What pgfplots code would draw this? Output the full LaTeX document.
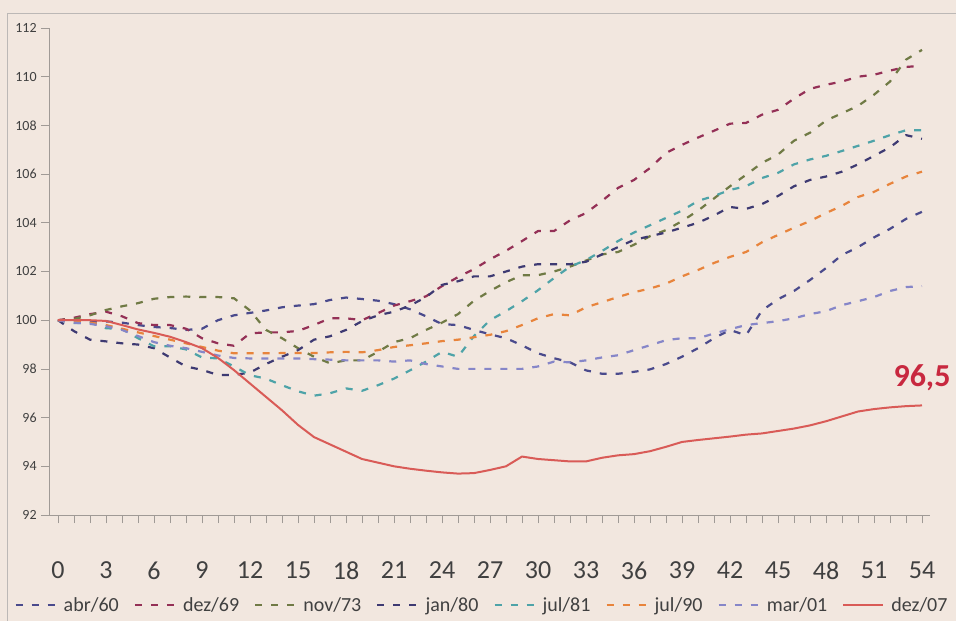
\documentclass[border=0pt]{standalone}
\usepackage{pgfplots}
\pgfplotsset{compat=1.18}
\usepackage{fontspec}
\setmainfont{Carlito}
\definecolor{paper}{HTML}{F2E7DF}
\definecolor{labgray}{HTML}{404040}
\definecolor{axgray}{HTML}{A09A96}
\definecolor{cA}{HTML}{4A4A8C}
\definecolor{cB}{HTML}{943056}
\definecolor{cC}{HTML}{707A45}
\definecolor{cD}{HTML}{3E3A72}
\definecolor{cE}{HTML}{4EA3A8}
\definecolor{cF}{HTML}{E8843C}
\definecolor{cG}{HTML}{8686C8}
\definecolor{cH}{HTML}{D95B57}
\definecolor{lbl}{HTML}{C8283F}
\begin{document}
\begin{tikzpicture}
\path[fill=paper] (-49.2pt,-106pt) rectangle (906.8pt,515pt);
\useasboundingbox (-49.2pt,-106pt) rectangle (906.8pt,515pt);
\draw[axgray!70, line width=0.8pt] (-41.7pt,-106pt) -- (-41.7pt,502pt) -- (906.8pt,502pt);
\begin{axis}[
  at={(0pt,0pt)}, anchor=south west,
  scale only axis, width=880.8pt, height=487pt,
  xmin=-0.55, xmax=54.5, ymin=92, ymax=112,
  clip mode=individual,
  axis lines*=left,
  axis line style={draw=axgray, line width=0.8pt},
  xtick={0,3,...,54}, minor xtick={0,...,54},
  ytick={92,94,...,112},
  tick align=outside, major tick length=8pt, minor tick length=8pt,
  every tick/.style={draw=axgray, line width=0.6pt},
  minor tick style={draw=axgray, line width=0.6pt},
  /pgf/number format/assume math mode=true,
  tick label style={text=labgray},
  xticklabel style={font=\fontsize{26}{30}\selectfont, yshift=-35pt},
  yticklabel style={font=\fontsize{14}{16}\selectfont, xshift=-1pt},
  legend style={at={(0.4914,-0.1848)}, anchor=center, draw=none, fill=none,
    font=\fontsize{20}{24}\selectfont, text=labgray,
    /tikz/every even column/.append style={column sep=13pt},
    /tikz/every odd column/.append style={column sep=5pt}},
  legend columns=-1,
  legend image code/.code={\draw[#1] (0pt,0pt) -- (40pt,0pt);},
  every axis plot/.append style={line width=2.2pt, line join=round},
]
% abr/60
\addplot[color=cA, dash pattern=on 7pt off 9pt] coordinates {
(0,100) (1,99.95) (2,99.95) (3,99.95) (4,99.9) (5,99.8) (6,99.72) (7,99.68) (8,99.6) (9,99.65) (10,100) (11,100.2) (12,100.3) (13,100.4) (14,100.53) (15,100.6) (16,100.66) (17,100.83) (18,100.93) (19,100.87) (20,100.8) (21,100.66) (22,100.45) (23,100.16) (24,99.84) (25,99.8) (26,99.6) (27,99.42) (28,99.26) (29,98.97) (30,98.64) (31,98.44) (32,98.27) (33,97.94) (34,97.8) (35,97.8) (36,97.88) (37,97.98) (38,98.2) (39,98.5) (40,98.85) (41,99.26) (42,99.6) (43,99.38) (44,100.4) (45,100.86) (46,101.2) (47,101.65) (48,102.14) (49,102.68) (50,103.0) (51,103.4) (52,103.75) (53,104.16) (54,104.45)};
\addlegendentry{abr/60}
% dez/69
\addplot[color=cB, dash pattern=on 7pt off 9pt] coordinates {
(0,100) (1,100.1) (2,100.25) (3,100.35) (4,100.16) (5,99.88) (6,99.8) (7,99.8) (8,99.65) (9,99.26) (10,99.05) (11,98.95) (12,99.46) (13,99.5) (14,99.5) (15,99.56) (16,99.8) (17,100.08) (18,100.08) (19,100.0) (20,100.29) (21,100.6) (22,100.78) (23,100.98) (24,101.4) (25,101.77) (26,102.1) (27,102.5) (28,102.85) (29,103.25) (30,103.66) (31,103.66) (32,104.1) (33,104.4) (34,104.9) (35,105.43) (36,105.76) (37,106.25) (38,106.87) (39,107.2) (40,107.5) (41,107.78) (42,108.07) (43,108.1) (44,108.44) (45,108.64) (46,109.1) (47,109.5) (48,109.67) (49,109.8) (50,110.0) (51,110.08) (52,110.25) (53,110.4) (54,110.45)};
\addlegendentry{dez/69}
% nov/73
\addplot[color=cC, dash pattern=on 7pt off 9pt] coordinates {
(0,100) (1,100.05) (2,100.2) (3,100.42) (4,100.57) (5,100.7) (6,100.88) (7,100.95) (8,100.97) (9,100.95) (10,100.95) (11,100.9) (12,100.4) (13,99.6) (14,99.26) (15,98.85) (16,98.5) (17,98.23) (18,98.35) (19,98.35) (20,98.7) (21,99.1) (22,99.26) (23,99.6) (24,99.9) (25,100.25) (26,100.8) (27,101.2) (28,101.56) (29,101.85) (30,101.85) (31,102.0) (32,102.2) (33,102.45) (34,102.7) (35,102.8) (36,103.1) (37,103.45) (38,103.7) (39,104.07) (40,104.5) (41,105.0) (42,105.5) (43,105.97) (44,106.46) (45,106.8) (46,107.37) (47,107.7) (48,108.2) (49,108.5) (50,108.8) (51,109.26) (52,109.8) (53,110.7) (54,111.1)};
\addlegendentry{nov/73}
% jan/80
\addplot[color=cD, dash pattern=on 7pt off 9pt] coordinates {
(0,100) (1,99.55) (2,99.2) (3,99.13) (4,99.05) (5,99.0) (6,98.85) (7,98.47) (8,98.1) (9,97.96) (10,97.75) (11,97.75) (12,97.85) (13,98.2) (14,98.5) (15,98.77) (16,99.2) (17,99.34) (18,99.6) (19,99.96) (20,100.2) (21,100.35) (22,100.6) (23,100.95) (24,101.45) (25,101.6) (26,101.8) (27,101.8) (28,102.0) (29,102.2) (30,102.3) (31,102.3) (32,102.3) (33,102.4) (34,102.7) (35,103.0) (36,103.3) (37,103.45) (38,103.6) (39,103.8) (40,104.0) (41,104.3) (42,104.65) (43,104.57) (44,104.77) (45,105.1) (46,105.5) (47,105.76) (48,105.9) (49,106.1) (50,106.4) (51,106.75) (52,107.1) (53,107.6) (54,107.45)};
\addlegendentry{jan/80}
% jul/81
\addplot[color=cE, dash pattern=on 7pt off 9pt] coordinates {
(0,100) (1,99.88) (2,99.9) (3,99.67) (4,99.64) (5,99.26) (6,98.93) (7,98.93) (8,98.8) (9,98.47) (10,98.43) (11,98.1) (12,97.74) (13,97.6) (14,97.33) (15,97.08) (16,96.9) (17,97.0) (18,97.2) (19,97.1) (20,97.33) (21,97.6) (22,97.94) (23,98.3) (24,98.7) (25,98.5) (26,99.35) (27,100.0) (28,100.37) (29,100.78) (30,101.23) (31,101.73) (32,102.2) (33,102.47) (34,102.84) (35,103.25) (36,103.6) (37,103.9) (38,104.2) (39,104.5) (40,104.9) (41,105.1) (42,105.35) (43,105.5) (44,105.84) (45,106.05) (46,106.4) (47,106.6) (48,106.75) (49,106.95) (50,107.16) (51,107.37) (52,107.6) (53,107.8) (54,107.8)};
\addlegendentry{jul/81}
% jul/90
\addplot[color=cF, dash pattern=on 7pt off 9pt] coordinates {
(0,100) (1,99.95) (2,99.9) (3,99.8) (4,99.65) (5,99.5) (6,99.35) (7,99.2) (8,99.05) (9,98.9) (10,98.75) (11,98.64) (12,98.64) (13,98.64) (14,98.65) (15,98.65) (16,98.65) (17,98.68) (18,98.7) (19,98.68) (20,98.77) (21,98.9) (22,98.97) (23,99.05) (24,99.14) (25,99.2) (26,99.3) (27,99.4) (28,99.55) (29,99.8) (30,100.08) (31,100.25) (32,100.2) (33,100.53) (34,100.74) (35,100.95) (36,101.15) (37,101.3) (38,101.5) (39,101.8) (40,102.06) (41,102.35) (42,102.6) (43,102.8) (44,103.2) (45,103.5) (46,103.8) (47,104.07) (48,104.4) (49,104.7) (50,105.06) (51,105.27) (52,105.6) (53,105.9) (54,106.1)};
\addlegendentry{jul/90}
% mar/01
\addplot[color=cG, dash pattern=on 7pt off 9pt] coordinates {
(0,100) (1,99.9) (2,99.85) (3,99.75) (4,99.6) (5,99.35) (6,99.1) (7,98.95) (8,98.85) (9,98.7) (10,98.55) (11,98.45) (12,98.43) (13,98.43) (14,98.43) (15,98.43) (16,98.4) (17,98.38) (18,98.35) (19,98.35) (20,98.35) (21,98.3) (22,98.35) (23,98.2) (24,98.1) (25,98.0) (26,98.0) (27,98.0) (28,98.0) (29,98.0) (30,98.1) (31,98.3) (32,98.27) (33,98.35) (34,98.47) (35,98.56) (36,98.77) (37,98.97) (38,99.18) (39,99.26) (40,99.26) (41,99.45) (42,99.63) (43,99.8) (44,99.88) (45,99.96) (46,100.08) (47,100.25) (48,100.37) (49,100.62) (50,100.78) (51,100.95) (52,101.2) (53,101.36) (54,101.4)};
\addlegendentry{mar/01}
% dez/07
\addplot[color=cH, line width=2pt] coordinates {
(0,100) (1,100.0) (2,100.0) (3,99.97) (4,99.8) (5,99.62) (6,99.48) (7,99.32) (8,99.1) (9,98.85) (10,98.45) (11,97.95) (12,97.4) (13,96.85) (14,96.3) (15,95.7) (16,95.2) (17,94.9) (18,94.6) (19,94.3) (20,94.15) (21,94.0) (22,93.9) (23,93.82) (24,93.75) (25,93.7) (26,93.72) (27,93.85) (28,94.0) (29,94.4) (30,94.3) (31,94.25) (32,94.2) (33,94.2) (34,94.35) (35,94.45) (36,94.5) (37,94.62) (38,94.8) (39,95.0) (40,95.08) (41,95.15) (42,95.22) (43,95.3) (44,95.35) (45,95.45) (46,95.55) (47,95.68) (48,95.85) (49,96.05) (50,96.25) (51,96.35) (52,96.42) (53,96.47) (54,96.5)};
\addlegendentry{dez/07}
\node[anchor=base, yshift=19pt, text=lbl, font=\fontsize{32}{36}\selectfont\bfseries] at (axis cs:54,96.5) {96,5};
\end{axis}
\end{tikzpicture}
\end{document}
